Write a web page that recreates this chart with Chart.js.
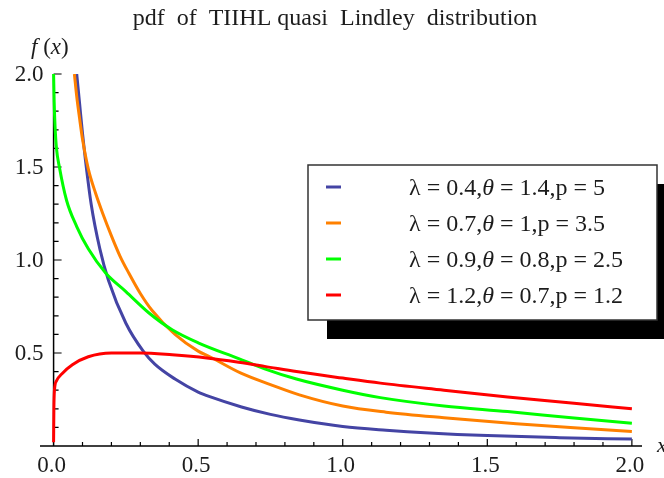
<!DOCTYPE html>
<html>
<head>
<meta charset="utf-8">
<script src="https://cdn.jsdelivr.net/npm/chart.js@4.4.1/dist/chart.umd.min.js"></script>
<style>
  html, body { margin: 0; padding: 0; background: #fff; }
</style>
</head>
<body>
<canvas id="myChart" width="664" height="478"></canvas>
<script>
// values
var xBlue = [0.08, 0.09, 0.1, 0.11, 0.13, 0.16, 0.19, 0.25, 0.31, 0.35, 0.42, 0.5, 0.54, 0.65, 0.75, 0.85, 1.0, 1.15, 1.3, 1.5, 1.75, 2.0];
var yBlue = [2.0, 1.84, 1.68, 1.54, 1.3, 1.06, 0.89, 0.66, 0.51, 0.44, 0.36, 0.29, 0.265, 0.21, 0.17, 0.14, 0.105, 0.085, 0.07, 0.056, 0.045, 0.037];

var xOrange = [0.072, 0.08, 0.09, 0.1, 0.12, 0.145, 0.17, 0.2, 0.23, 0.26, 0.3, 0.34, 0.42, 0.5, 0.54, 0.65, 0.75, 0.85, 1.0, 1.15, 1.35, 1.6, 1.8, 2.0];
var yOrange = [2.0, 1.88, 1.76, 1.65, 1.49, 1.36, 1.25, 1.13, 1.02, 0.93, 0.82, 0.73, 0.6, 0.51, 0.48, 0.39, 0.33, 0.275, 0.215, 0.182, 0.152, 0.12, 0.098, 0.078];

var xGreen = [0, 0.002, 0.005, 0.01, 0.02, 0.045, 0.08, 0.12, 0.18, 0.25, 0.33, 0.41, 0.5, 0.64, 0.73, 0.84, 1.0, 1.13, 1.35, 1.57, 1.8, 2.0];
var yGreen = [2.0, 1.85, 1.72, 1.6, 1.5, 1.32, 1.18, 1.06, 0.93, 0.83, 0.715, 0.625, 0.555, 0.47, 0.415, 0.36, 0.3, 0.26, 0.215, 0.185, 0.15, 0.122];

var xRed = [0, 0.001, 0.003, 0.01, 0.03, 0.065, 0.12, 0.2, 0.3, 0.41, 0.53, 0.64, 0.73, 0.84, 1.0, 1.13, 1.35, 1.57, 1.8, 2.0];
var yRed = [0.02, 0.2, 0.3, 0.35, 0.39, 0.437, 0.48, 0.5, 0.5, 0.49, 0.473, 0.45, 0.428, 0.4, 0.365, 0.338, 0.3, 0.263, 0.23, 0.2];

var seriesLabels = ['λ = 0.4,θ = 1.4,p = 5', 'λ = 0.7,θ = 1,p = 3.5', 'λ = 0.9,θ = 0.8,p = 2.5', 'λ = 1.2,θ = 0.7,p = 1.2'];
var seriesColors = ['rgb(68,68,164)', '#ff8000', '#00ff00', '#ff0000'];

var xTickLabels = [0, 0.5, 1.0, 1.5, 2.0];
var yTickLabels = [0.5, 1.0, 1.5, 2.0];
var minorStep = 0.1;

var titleText = 'pdf  of  TIIHL quasi  Lindley  distribution';

function pts(xs, ys) {
	return xs.map(function (x, i) { return { x: x, y: ys[i] }; });
}

var seriesX = [xBlue, xOrange, xGreen, xRed];
var seriesY = [yBlue, yOrange, yGreen, yRed];

var datasets = seriesLabels.map(function (lab, i) {
	return {
		label: lab,
		data: pts(seriesX[i], seriesY[i]),
		borderColor: seriesColors[i],
		borderWidth: 3,
		pointRadius: 0,
		fill: false,
		cubicInterpolationMode: 'monotone',
		order: 3 - i,
	};
});

var serif = '"Liberation Serif", "Times New Roman", serif';
var textColor = '#1c1c1c';

function drawPieces(ctx, pieces, x, y, size) {
	pieces.forEach(function (p) {
		ctx.font = (p[1] ? 'italic ' : '') + size + 'px ' + serif;
		ctx.fillText(p[0], x, y);
		x += ctx.measureText(p[0]).width;
	});
}

var axesPlugin = {
	id: 'mathAxes',
	beforeDatasetsDraw: function (chart) {
		var ctx = chart.ctx;
		var xs = chart.scales.x, ys = chart.scales.y;
		var x0 = xs.getPixelForValue(0), y0 = ys.getPixelForValue(0);
		ctx.save();
		ctx.strokeStyle = '#000';
		ctx.lineWidth = 1.5;
		ctx.beginPath();
		ctx.moveTo(chart.chartArea.left, y0);
		ctx.lineTo(chart.chartArea.right, y0);
		ctx.moveTo(x0, y0);
		ctx.lineTo(x0, ys.getPixelForValue(2.0));
		ctx.stroke();
		ctx.lineWidth = 1.2;
		ctx.beginPath();
		for (var k = 1; k <= 20; k++) {
			var v = k * minorStep;
			var major = k % 5 === 0;
			var px = xs.getPixelForValue(v);
			ctx.moveTo(px, y0);
			ctx.lineTo(px, y0 - (major ? 7 : 4));
			var py = ys.getPixelForValue(v);
			ctx.moveTo(x0, py);
			ctx.lineTo(x0 + (major ? 8 : 5), py);
		}
		ctx.stroke();

		ctx.fillStyle = textColor;
		ctx.font = '23px ' + serif;
		ctx.textBaseline = 'alphabetic';
		ctx.textAlign = 'center';
		xTickLabels.forEach(function (v) {
			ctx.fillText(v.toFixed(1), xs.getPixelForValue(v) - 2, y0 + 26);
		});
		ctx.textAlign = 'right';
		yTickLabels.forEach(function (v) {
			ctx.fillText(v.toFixed(1), x0 - 10, ys.getPixelForValue(v) + 7);
		});
		ctx.restore();
	},
	afterDraw: function (chart) {
		var ctx = chart.ctx;
		ctx.save();
		ctx.fillStyle = textColor;
		ctx.textBaseline = 'alphabetic';
		ctx.textAlign = 'center';
		ctx.font = '24px ' + serif;
		ctx.fillText(titleText, 335, 25);

		ctx.textAlign = 'left';
		drawPieces(ctx, [['f', true], [' (', false], ['x', true], [')', false]], 31, 54, 23);
		drawPieces(ctx, [['x', true]], 657, 452, 22);

		// legend with drop shadow
		var L = 308, T = 165, R = 657, B = 320;
		ctx.fillStyle = '#000';
		ctx.fillRect(L + 19, T + 19, R - L + 20, B - T);
		ctx.fillStyle = '#fff';
		ctx.fillRect(L, T, R - L, B - T);
		ctx.strokeStyle = '#333';
		ctx.lineWidth = 1.5;
		ctx.strokeRect(L, T, R - L, B - T);

		seriesLabels.forEach(function (lab, i) {
			var ry = 187 + i * 36;
			ctx.strokeStyle = seriesColors[i];
			ctx.lineWidth = 3;
			ctx.beginPath();
			ctx.moveTo(326, ry);
			ctx.lineTo(341, ry);
			ctx.stroke();
			ctx.fillStyle = textColor;
			var parts = lab.split('θ');
			drawPieces(ctx, [[parts[0], false], ['θ', true], [parts[1], false]], 409, ry + 8, 24);
		});
		ctx.restore();
	},
};

new Chart('myChart', {
	type: 'line',
	data: { datasets: datasets },
	options: {
		responsive: false,
		animation: false,
		events: [],
		layout: { padding: { left: 40, right: 22, top: 74, bottom: 32 } },
		plugins: {
			legend: { display: false },
			title: { display: false },
			tooltip: { enabled: false },
		},
		scales: {
			x: { type: 'linear', min: -0.047, max: 2.035, display: false },
			y: { type: 'linear', min: 0, max: 2.0, display: false },
		},
	},
	plugins: [axesPlugin],
});
</script>
</body>
</html>
